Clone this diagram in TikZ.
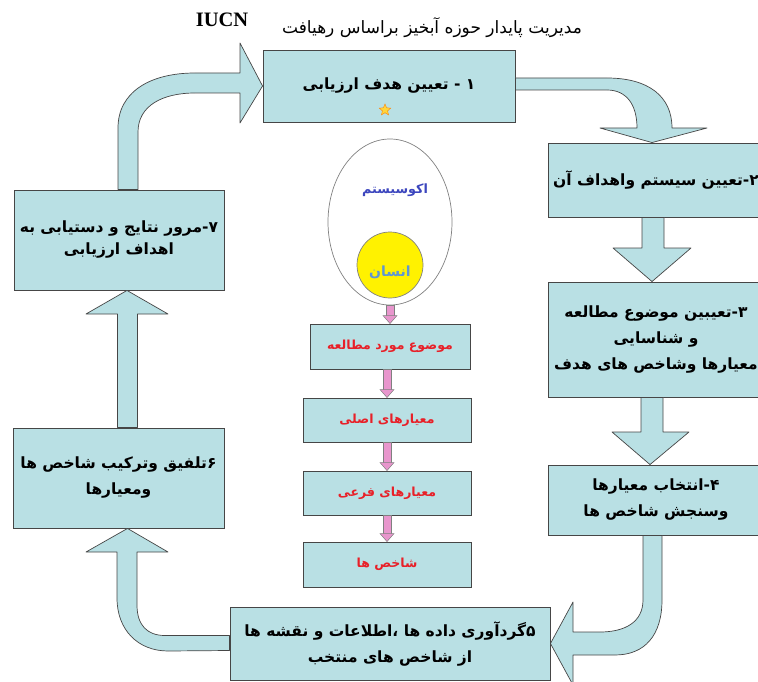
\documentclass[tikz,border=0pt]{standalone}
\usepackage{fontspec}
\setmainfont{Liberation Serif}
\newfontfamily\farsi[Script=Arabic]{DejaVu Sans}
\TeXXeTstate=1
\usetikzlibrary{shapes.geometric,calc}
\newcommand{\fatext}[1]{{\farsi\beginR #1\endR}}

\definecolor{boxblue}{RGB}{185,224,228}
\definecolor{edgegray}{RGB}{70,70,70}
\definecolor{textred}{RGB}{232,32,40}
\definecolor{ecoblue}{RGB}{60,70,190}
\definecolor{humanblue}{RGB}{95,150,210}
\definecolor{shaftpink}{RGB}{232,150,205}
\definecolor{starfill}{RGB}{255,215,60}

\tikzset{
  stepbox/.style={draw=edgegray, fill=boxblue, line width=0.9pt, align=center, inner sep=2pt, font=\farsi\bfseries\fontsize{15.5}{26}\selectfont},
  subbox/.style={draw=edgegray, fill=boxblue, line width=0.9pt, minimum width=168pt, minimum height=44pt, text=textred, font=\farsi\bfseries\fontsize{12.5}{14}\selectfont},
  bigarrow/.style={draw=edgegray, fill=boxblue, line width=0.7pt, line join=round},
  pinkbar/.style={draw=gray, fill=shaftpink, line width=0.5pt}
}

\begin{document}
\begin{tikzpicture}[x=1pt,y=1pt]
\useasboundingbox (0,0) rectangle (758,-682);
\clip (0,0) rectangle (758,-682);

\node[font=\bfseries\fontsize{20.5}{22}\selectfont] (iucn) at (222,-20) {IUCN};
\node[font=\farsi\fontsize{17}{19}\selectfont] (title) at (432,-28) {\fatext{مدیریت پایدار حوزه آبخیز براساس رهیافت}};

\node[stepbox, minimum width=252pt, minimum height=72pt] (b1) at (389,-86) {\fatext{۱ - تعیین هدف ارزیابی}};
\node[star, star points=5, star point ratio=2.2, fill=starfill, draw=orange, minimum size=12pt, inner sep=0pt] (star) at (385,-110) {};
\node[stepbox, minimum width=216pt, minimum height=74pt] (b2) at (656,-180) {\fatext{۲\kern0pt-\kern0pt تعیین سیستم واهداف آن}};
\node[stepbox, minimum width=216pt, minimum height=115pt] (b3) at (656,-339.5) {\fatext{۳\kern0pt-\kern0pt تعیبین موضوع مطالعه}\\ \fatext{و شناسایی}\\ \fatext{معیارها وشاخص های هدف}};
\node[stepbox, minimum width=216pt, minimum height=70pt] (b4) at (656,-500) {\fatext{۴\kern0pt-\kern0pt انتخاب معیارها}\\ \fatext{وسنجش شاخص ها}};
\node[stepbox, minimum width=320pt, minimum height=73pt] (b5) at (390,-643.5) {\fatext{۵\kern0pt گردآوری داده ها ،\kern0pt اطلاعات و نقشه ها}\\ \fatext{از شاخص های منتخب}};
\node[stepbox, minimum width=211pt, minimum height=100pt] (b6) at (118.5,-478) {\fatext{۶\kern0pt تلفیق وترکیب شاخص ها}\\ \fatext{ومعیارها}};
\node[stepbox, minimum width=210pt, minimum height=100pt, font=\farsi\bfseries\fontsize{15.5}{22}\selectfont] (b7) at (119,-240) {\fatext{۷\kern0pt-\kern0pt مرور نتایج و دستیابی به}\\ \fatext{اهداف ارزیابی}};

\node[ellipse, draw=gray, fill=white, line width=0.7pt, minimum width=124pt, minimum height=166pt] (eco) at (390,-222) {};
\node[text=ecoblue, font=\farsi\bfseries\fontsize{12.8}{14}\selectfont] (ecolabel) at (395,-190) {\fatext{اکوسیستم}};
\node[circle, draw=gray, fill=yellow, line width=0.7pt, minimum size=66pt] (human) at (390,-265) {};
\node[text=humanblue, font=\farsi\bfseries\fontsize{14}{16}\selectfont] (humanlabel) at (390,-272) {\fatext{انسان}};

\node[subbox, minimum width=160pt, minimum height=45pt] (s1) at (390,-346.5) {\fatext{موضوع مورد مطالعه}};
\node[subbox] (s2) at (387,-420) {\fatext{معیارهای اصلی}};
\node[subbox] (s3) at (387,-493) {\fatext{معیارهای فرعی}};
\node[subbox, minimum height=45pt] (s4) at (387,-564.5) {\fatext{شاخص ها}};

\foreach \a/\b in {eco/s1, s1/s2, s2/s3, s3/s4}{
  \filldraw[pinkbar] ($(\a.south -| \b.north)+(-4,0)$) rectangle ($(\b.north)+(4,6)$);
  \filldraw[pinkbar] ($(\b.north)+(-7,8)$) -- (\b.north) -- ($(\b.north)+(7,8)$) -- cycle;
}

\draw[bigarrow] ([yshift=8pt]b1.east) -- (607,-78) .. controls (648,-78) and (672,-96) .. (672,-128) -- (707,-128) -- ([xshift=-4pt]b2.north) -- (600,-128) -- (637,-128) .. controls (637,-104) and (626,-90) .. (607,-90) -- ([yshift=-4pt]b1.east) -- cycle;
\draw[bigarrow] ([xshift=-14pt]b2.south) -- (642,-248) -- (613,-248) -- ([xshift=-4pt]b3.north) -- (691,-248) -- (664,-248) -- ([xshift=8pt]b2.south) -- cycle;
\draw[bigarrow] ([xshift=-15pt]b3.south) -- (641,-432) -- (612,-432) -- ([xshift=-6pt]b4.north) -- (689,-432) -- (663,-432) -- ([xshift=7pt]b3.south) -- cycle;
\draw[bigarrow] ([xshift=-13pt]b4.south) -- (643,-600) .. controls (643,-622) and (625,-632) .. (600,-632) -- (573,-632) -- (573,-602) -- (b5.east) -- (573,-685) -- (573,-655) -- (615,-655) .. controls (645,-655) and (662,-635) .. (662,-600) -- ([xshift=6pt]b4.south) -- cycle;
\draw[bigarrow] ([yshift=8pt]b5.west) -- (165,-635.5) .. controls (147,-635.5) and (137,-625) .. (137,-605) -- (137,-552) -- (168,-552) -- ([xshift=9pt]b6.south) -- (86,-552) -- (117,-552) -- (117,-598) .. controls (117,-630) and (138,-651) .. (168,-651) -- ([yshift=-7pt]b5.west) -- cycle;
\draw[bigarrow] ([xshift=-1pt]b6.north) -- (117.5,-314) -- (86,-314) -- ([xshift=8pt]b7.south) -- (168,-314) -- (137.5,-314) -- ([xshift=19pt]b6.north) -- cycle;
\draw[bigarrow] ([xshift=-1pt]b7.north) -- (118,-128) .. controls (118,-92) and (150,-73) .. (195,-73) -- (240,-73) -- (240,-43) -- (b1.west) -- (240,-123) -- (240,-93) -- (195,-93) .. controls (162,-93) and (138,-106) .. (138,-132) -- ([xshift=19pt]b7.north) -- cycle;

\end{tikzpicture}
\end{document}
